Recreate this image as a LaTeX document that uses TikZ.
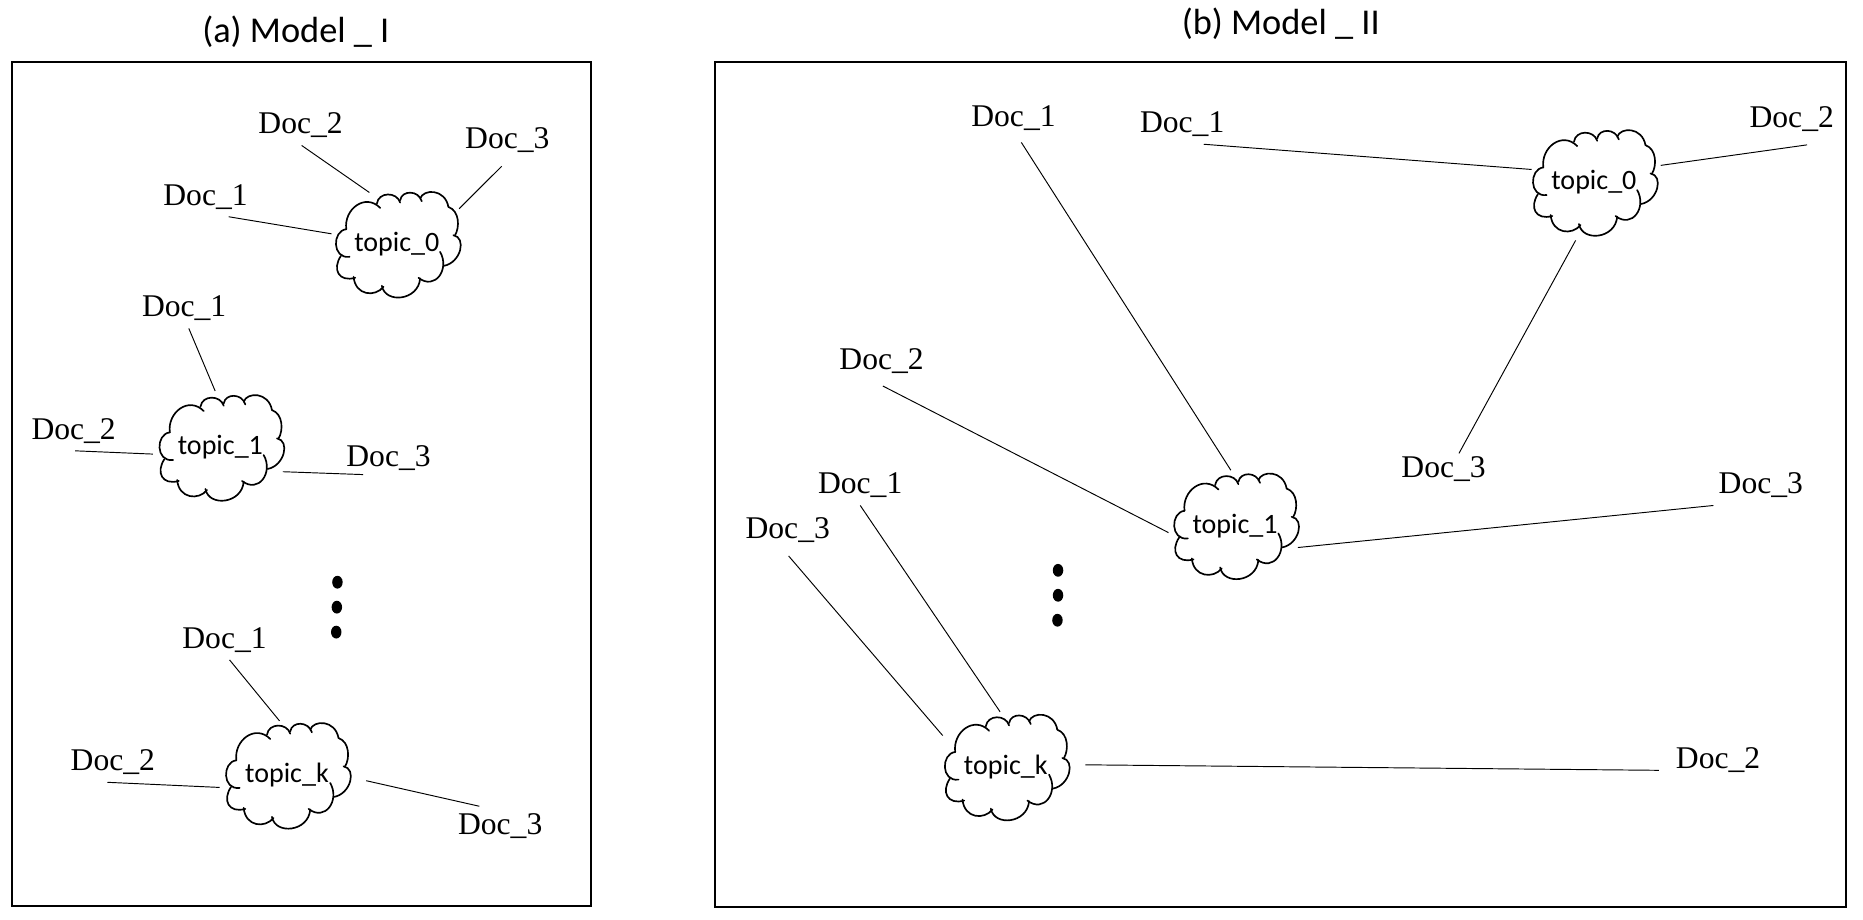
\documentclass[tikz,border=0pt]{standalone}
\usepackage{fontspec}
\setmainfont{Liberation Serif}
\newfontfamily\labelfont{Carlito}
\usetikzlibrary{shapes.symbols, shapes.geometric}
\tikzset{
    docnode/.style={inner sep=3pt, font=\fontsize{13.3}{15}\selectfont},
    topicnode/.style={cloud, cloud puffs=12, cloud puff arc=125, aspect=1.17, inner sep=0pt, minimum width=52pt, minimum height=45pt, font=\labelfont\fontsize{11.8}{14}\selectfont},
    titlenode/.style={font=\labelfont\fontsize{15.3}{18}\selectfont},
    dotnode/.style={fill, ellipse, inner sep=0pt, minimum width=4.4pt, minimum height=5.4pt},
    panel/.style={draw, inner sep=0pt, line width=0.8pt},
    link/.style={line width=0.4pt, shorten >=1pt}
}
\newcommand{\puffs}[1]{
    \begin{scope}[shift={(#1.center)}, xshift=0.7pt, yshift=-0.7pt, x=0.14pt, y=-0.14pt, line width=0.7pt, line cap=round]
        \foreach \sx/\sy/\ax/\ay/\bx/\by/\ex/\ey in {-157/-50/-165/-110/-100/-160/-55/-114, -65/-127/-60/-163/-5/-163/5/-130, 5/-137/10/-168/60/-168/70/-134, 65/-142/75/-172/140/-172/150/-117, 150/-117/184/-105/184/-55/170/-32, 165/-32/205/-25/188/50/137/60, 125/18/155/70/110/135/60/96, 65/98/60/165/-40/175/-50/120, -45/123/-70/155/-130/150/-135/93, -130/96/-180/110/-200/70/-173/30, -147/33/-200/40/-200/-45/-157/-50}
            \draw (\sx, \sy) .. controls (\ax, \ay) and (\bx, \by) .. (\ex, \ey);
    \end{scope}
}

\begin{document}
\begin{tikzpicture}[x=0.5pt, y=-0.5pt]
        \useasboundingbox (0, 0) rectangle (1568, 773.5);

        \node[titlenode] (titleA) at (249, 27) {(a) Model \_ I};
        \node[titlenode] (titleB) at (1078, 20) {(b) Model \_ II};

        \node[panel, minimum width=243.65pt, minimum height=355pt] (panelA) at (253.75, 407.5) {};
        \node[panel, minimum width=475.95pt, minimum height=355.45pt] (panelB) at (1077.75, 408) {};

        \node[topicnode] (topic0a) at (334, 205.5) {topic\_0};
        \node[topicnode] (topic1a) at (185.5, 376.5) {topic\_1};
        \node[topicnode] (topicka) at (241.5, 652.5) {topic\_k};
        \puffs{topic0a}
        \puffs{topic1a}
        \puffs{topicka}

        \node[docnode] (doc1a) at (173, 165.5) {Doc\_1};
        \node[docnode] (doc2a) at (253, 105.5) {Doc\_2};
        \node[docnode, inner sep=5.75pt] (doc3a) at (427, 117.5) {Doc\_3};
        \node[docnode] (doc1b) at (155, 259.5) {Doc\_1};
        \node[docnode] (doc2b) at (62, 362.5) {Doc\_2};
        \node[docnode, inner sep=1.5pt] (doc3b) at (327, 385.5) {Doc\_3};
        \node[docnode] (doc1c) at (189, 538.5) {Doc\_1};
        \node[docnode] (doc2c) at (95, 641.5) {Doc\_2};
        \node[docnode] (doc3c) at (421, 695.5) {Doc\_3};

        \draw[link] (doc1a.-41) -- (topic0a.171);
        \draw[link, shorten >=-1pt] (doc2a.-87) -- (topic0a.119);
        \draw[link, shorten >=3pt] (doc3a.-102) -- (topic0a.28);
        \draw[link, shorten >=-1pt] (doc1b.-77) -- (topic1a.96);
        \draw[link] (doc2b.-86) -- (topic1a.186);
        \draw[link] (doc3b.-147) -- (topic1a.-22);
        \draw[link, shorten >=-1pt] (doc1c.-76) -- (topicka.99);
        \draw[link, shorten >=3.5pt] (doc2c.-105) -- (topicka.192);
        \draw[link, shorten >=6pt] (doc3c.136) -- (topicka.-2);

        \node[dotnode] (dotA1) at (284, 490) {};
        \node[dotnode] (dotA2) at (283.5, 511) {};
        \node[dotnode] (dotA3) at (283, 532) {};

        \node[topicnode] (topic0b) at (1341.5, 153.5) {topic\_0};
        \node[topicnode] (topic1b) at (1039.5, 442.5) {topic\_1};
        \node[topicnode] (topickb) at (846.5, 645.5) {topic\_k};
        \puffs{topic0b}
        \puffs{topic1b}
        \puffs{topickb}

        \node[docnode] (doc1d) at (995, 104.5) {Doc\_1};
        \node[docnode, inner sep=5.25pt] (doc2d) at (1508, 100.5) {Doc\_2};
        \node[docnode, inner sep=1pt] (doc3d) at (1215, 394.5) {Doc\_3};
        \node[docnode, inner sep=4.75pt] (doc1e) at (853, 99.5) {Doc\_1};
        \node[docnode, inner sep=5.25pt] (doc2e) at (742, 303.5) {Doc\_2};
        \node[docnode] (doc3e) at (1482, 408.5) {Doc\_3};
        \node[docnode] (doc1f) at (724, 408.5) {Doc\_1};
        \node[docnode] (doc2f) at (1446, 639.5) {Doc\_2};
        \node[docnode, inner sep=5.25pt] (doc3f) at (663, 446.5) {Doc\_3};

        \draw[link] (doc1d.-43) -- (topic0b.168);
        \draw[link, shorten >=3pt] (doc2d.-59) -- (topic0b.15);
        \draw[link, shorten >=3pt] (doc3d.45) -- (topic0b.-106);
        \draw[link, shorten >=-1.5pt] (doc1e.-72) -- (topic1b.96);
        \draw[link] (doc2e.-87) -- (topic1b.187);
        \draw[link] (doc3e.-157) -- (topic1b.-20);
        \draw[link, shorten >=-1pt] (doc1f.-90) -- (topickb.97);
        \draw[link, shorten <=4pt, shorten >=6pt] (doc2f.-168) -- (topickb.2);
        \draw[link, shorten >=3pt] (doc3f.-88) -- (topickb.156);

        \node[dotnode] (dotB1) at (890.5, 480) {};
        \node[dotnode] (dotB2) at (890.5, 501) {};
        \node[dotnode] (dotB3) at (890, 522) {};
    \end{tikzpicture}
\end{document}
